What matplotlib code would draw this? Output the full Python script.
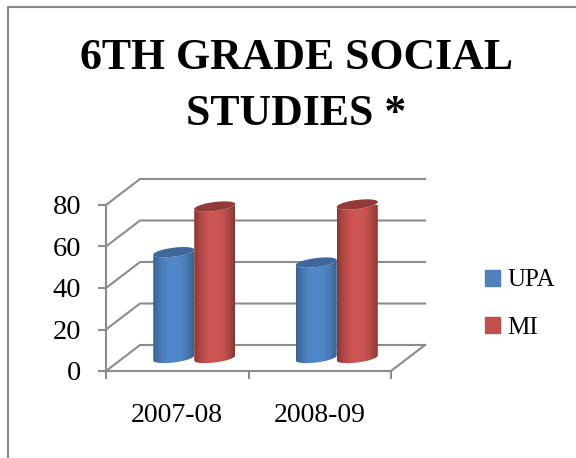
import numpy as np
import matplotlib
matplotlib.use('Agg')
import matplotlib.pyplot as plt
from matplotlib.lines import Line2D
from matplotlib.patches import Patch, Polygon

categories = ['2007-08', '2008-09']
series_names = ['UPA', 'MI']
upa_values = [51, 46]
mi_values = [73, 74]
y_ticks = [0, 20, 40, 60, 80]

plt.rcParams['font.family'] = ['Liberation Serif', 'DejaVu Serif']

W, H = 576, 458
GRID = '#8c8c8c'
BLUE = ('#3a628f', '#5288cb', '#3d6899')
RED = ('#873634', '#ce5654', '#933b39')

# front plane of the fake 3d box, in pixels
LEFT, RIGHT, BOTTOM, TOP = 106, 391, 371, 205
x_per_cat = (RIGHT - LEFT) / 2
y_per_val = (BOTTOM - TOP) / 80
depth_x = 34 / x_per_cat
depth_y = 26 / y_per_val

fig = plt.figure(figsize=(W / 100, H / 100), dpi=100)
ax = fig.add_axes([LEFT / W, 1 - BOTTOM / H, (RIGHT - LEFT) / W, (BOTTOM - TOP) / H])
ax.patch.set_alpha(0)

# outer frame, only left and top are in the crop
fig.add_artist(Line2D([8 / W, 8 / W, 1], [0, 1 - 7 / H, 1 - 7 / H], color='#888888', lw=1.5))

fig.text(0.514, 1 - 58 / H, '6TH GRADE SOCIAL', fontsize=31.5, fontweight='bold', ha='center', va='center')
fig.text(0.514, 1 - 114 / H, 'STUDIES *', fontsize=31.5, fontweight='bold', ha='center', va='center')

# walls
for v in y_ticks:
    ax.plot([0, depth_x, 2 + depth_x], [v, v + depth_y, v + depth_y], color=GRID, lw=1.5, clip_on=False, zorder=1)
ax.plot([2, 2 + depth_x], [0, depth_y], color=GRID, lw=1.5, clip_on=False, zorder=1)


def cylinder(x0, width, value, cols):
    # base sits halfway into the box depth
    base = depth_y / 2
    x0 = x0 + depth_x / 2
    xc = x0 + width / 2
    ry = 4.5 / y_per_val
    tilt = 2.5 / y_per_val
    t = np.linspace(0, np.pi, 40)
    ex = xc + width / 2 * np.cos(t)
    sk = tilt * np.cos(t)
    top_front = base + value - ry * np.sin(t) + sk
    bot_front = base - ry * np.sin(t) + sk
    body = np.vstack([
        np.column_stack([ex, top_front]),
        np.column_stack([ex[::-1], bot_front[::-1]]),
    ])
    poly = Polygon(body, closed=True, fc='none', ec='none', clip_on=False, zorder=3)
    ax.add_patch(poly)
    grad = np.abs(np.linspace(-1, 1, 80)) ** 2.2
    c0 = np.array(matplotlib.colors.to_rgb(cols[1]))
    c1 = np.array(matplotlib.colors.to_rgb(cols[0]))
    img = c0[None, None, :] * (1 - grad[None, :, None]) + c1[None, None, :] * grad[None, :, None]
    im = ax.imshow(img, extent=[x0, x0 + width, base - 2 * ry, base + value + 2 * ry],
                   aspect='auto', zorder=3, interpolation='bilinear')
    im.set_clip_path(poly)
    tt = np.linspace(0, 2 * np.pi, 80)
    cap = np.column_stack([
        xc + width / 2 * np.cos(tt),
        base + value + ry * np.sin(tt) + tilt * np.cos(tt),
    ])
    ax.add_patch(Polygon(cap, closed=True, fc=cols[2], ec='none', clip_on=False, zorder=4))


bar_w = 41 / x_per_cat
for i in range(len(categories)):
    cylinder(i + 0.5 - bar_w, bar_w, upa_values[i], BLUE)
    cylinder(i + 0.5, bar_w, mi_values[i], RED)

ax.set_xlim(0, 2)
ax.set_ylim(0, 80)
ax.set_yticks(y_ticks)
ax.set_xticks([0, 1, 2])
ax.set_xticklabels([])
ax.set_xticks([0.5, 1.5], minor=True)
ax.set_xticklabels(categories, minor=True, fontsize=20)
ax.tick_params(axis='x', which='minor', length=0, pad=23)
ax.tick_params(axis='both', which='major', color=GRID, width=1.5, length=6)
ax.tick_params(axis='y', labelsize=20.5, pad=12)
for name in ['top', 'right']:
    ax.spines[name].set_visible(False)
for name in ['left', 'bottom']:
    ax.spines[name].set_color(GRID)
    ax.spines[name].set_linewidth(1.5)

handles = [Patch(color='#4f81bd', label=series_names[0]), Patch(color='#c0504d', label=series_names[1])]
fig.legend(handles=handles, loc='center left', bbox_to_anchor=(485 / W, 1 - 304 / H), frameon=False,
           fontsize=18, handlelength=0.6, handleheight=0.6, handletextpad=0.3, labelspacing=1.0,
           borderpad=0, borderaxespad=0)

fig.savefig('out.png', dpi=100)
